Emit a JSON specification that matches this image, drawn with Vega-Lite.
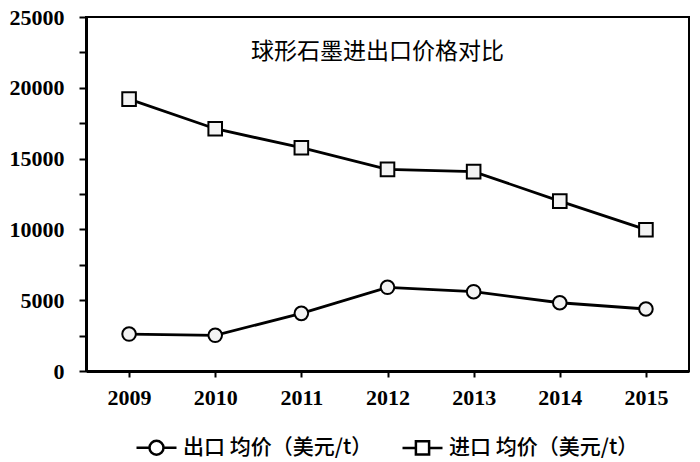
{
  "$schema": "https://vega.github.io/schema/vega-lite/v6.json",
  "autosize": "none",
  "width": 603,
  "height": 354,
  "padding": {"left": 86, "top": 17, "right": 11, "bottom": 91},
  "background": "white",
  "config": {
    "view": {"stroke": "black", "strokeWidth": 2},
    "axis": {"grid": false, "domainColor": "black", "tickColor": "black", "labelColor": "black", "labelFont": "Liberation Serif", "labelFontWeight": "bold", "labelFontSize": 22, "title": null},
    "legend": {"labelFont": "Noto Sans CJK SC", "labelFontSize": 21, "labelFontWeight": 500, "labelColor": "black", "labelLimit": 0}
  },
  "title": {"text": "球形石墨进出口价格对比", "orient": "top", "anchor": "middle", "frame": "group", "offset": -58, "dx": -10, "font": "Noto Sans CJK SC", "fontSize": 23, "fontWeight": "normal", "color": "black"},
  "data": {"values": [
    {"year": "2009", "series": "出口 均价（美元/t）", "value": 2610},
    {"year": "2010", "series": "出口 均价（美元/t）", "value": 2520},
    {"year": "2011", "series": "出口 均价（美元/t）", "value": 4070},
    {"year": "2012", "series": "出口 均价（美元/t）", "value": 5910},
    {"year": "2013", "series": "出口 均价（美元/t）", "value": 5600},
    {"year": "2014", "series": "出口 均价（美元/t）", "value": 4820},
    {"year": "2015", "series": "出口 均价（美元/t）", "value": 4380},
    {"year": "2009", "series": "进口 均价（美元/t）", "value": 19200},
    {"year": "2010", "series": "进口 均价（美元/t）", "value": 17110},
    {"year": "2011", "series": "进口 均价（美元/t）", "value": 15770},
    {"year": "2012", "series": "进口 均价（美元/t）", "value": 14240},
    {"year": "2013", "series": "进口 均价（美元/t）", "value": 14080},
    {"year": "2014", "series": "进口 均价（美元/t）", "value": 12000},
    {"year": "2015", "series": "进口 均价（美元/t）", "value": 9980}
  ]},
  "encoding": {
    "x": {"field": "year", "type": "ordinal", "scale": {"type": "point", "padding": 0.5},
      "axis": {"labelAngle": 0, "domainWidth": 3, "tickWidth": 2, "tickSize": 6, "labelPadding": 10}},
    "y": {"field": "value", "type": "quantitative", "scale": {"domain": [0, 25000], "nice": false},
      "axis": {"values": [0, 2500, 5000, 7500, 10000, 12500, 15000, 17500, 20000, 22500, 25000], "format": "d", "labelExpr": "datum.value % 5000 === 0 ? datum.label : ''", "domainWidth": 3, "tickWidth": 2, "tickSize": 7, "labelPadding": 15}}
  },
  "layer": [
    {"mark": {"type": "line", "color": "black", "strokeWidth": 2.8},
     "encoding": {"detail": {"field": "series"}}},
    {"mark": {"type": "point", "filled": true, "fill": "#f3f3f3", "stroke": "black", "strokeWidth": 2, "opacity": 1, "size": 185},
     "encoding": {"shape": {"field": "series", "type": "nominal",
        "scale": {"domain": ["出口 均价（美元/t）", "进口 均价（美元/t）"], "range": ["circle", "square"]},
        "legend": null}}},
    {"transform": [{"filter": "datum.value < 0"}],
     "mark": {"type": "point", "filled": false, "stroke": "black", "strokeWidth": 2.5, "opacity": 1, "size": 1600},
     "encoding": {"shape": {"field": "series", "type": "nominal",
        "scale": {"domain": ["出口 均价（美元/t）", "进口 均价（美元/t）"], "range": [
          "M-1,0H-0.35 M0.35,0H1 M0.35,0A0.35,0.35 0 1,1 -0.35,0A0.35,0.35 0 1,1 0.35,0Z",
          "M-1,0H-0.33 M0.33,0H1 M-0.33,-0.33H0.33V0.33H-0.33Z"]},
        "legend": {"title": null, "orient": "none", "legendX": 49, "legendY": 409, "direction": "horizontal", "symbolSize": 1600, "columnPadding": 24, "labelOffset": 5,
          "symbolOpacity": 1, "symbolStrokeColor": "black", "symbolStrokeWidth": 2.5}}}}
  ],
  "resolve": {"scale": {"shape": "independent"}}
}
